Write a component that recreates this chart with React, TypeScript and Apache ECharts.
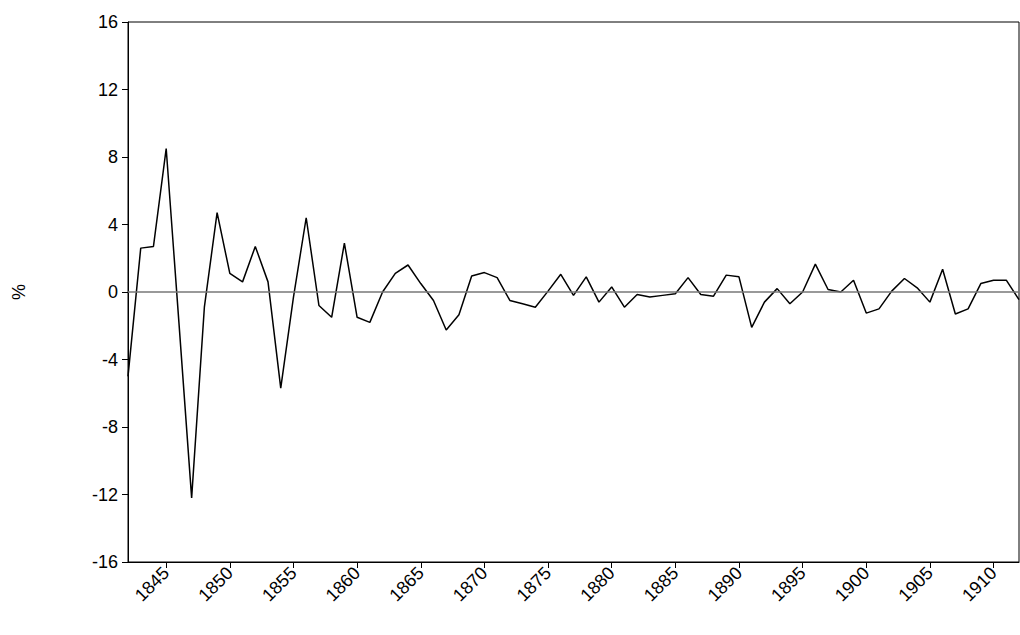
import React, { useEffect, useRef } from "react";
import * as echarts from "echarts";

const years: string[] = [];
for (let y = 1842; y <= 1912; y++) years.push(String(y));
const values = [
  -5, 2.6, 2.7, 8.5, -1.8, -12.2, -0.9, 4.7, 1.1, 0.6,
  2.7, 0.6, -5.7, -0.3, 4.4, -0.8, -1.5, 2.9, -1.5, -1.8,
  0, 1.1, 1.6, 0.5, -0.5, -2.25, -1.35, 0.95, 1.15, 0.85,
  -0.5, -0.7, -0.9, 0.05, 1.05, -0.2, 0.9, -0.6, 0.3, -0.9,
  -0.15, -0.3, -0.2, -0.1, 0.85, -0.15, -0.25, 1.0, 0.9, -2.1,
  -0.6, 0.2, -0.7, 0, 1.65, 0.15, 0, 0.7, -1.25, -1.0,
  0.05, 0.8, 0.25, -0.6, 1.35, -1.3, -1.0, 0.5, 0.7, 0.7,
  -0.45,
];

export default function App() {
  const ref = useRef<HTMLDivElement>(null);
  useEffect(() => {
    const chart = echarts.init(ref.current!, undefined, { renderer: "svg" });
    const font = "Liberation Sans, Arial, sans-serif";
    const show5 = (i: number, v: string) => Number(v) % 5 === 0;
    chart.setOption({
      animation: false,
      grid: { left: 128, right: 1, top: 22, bottom: 73, show: true, borderColor: "#000", borderWidth: 1 },
      xAxis: {
        type: "category",
        data: years,
        boundaryGap: false,
        axisLine: { onZero: false, lineStyle: { color: "#000" } },
        axisTick: { interval: show5, length: 6, lineStyle: { color: "#000" } },
        axisLabel: { interval: show5, rotate: 45, color: "#000", fontSize: 18, fontFamily: font, margin: 8 },
        splitLine: { show: false },
      },
      yAxis: {
        type: "value",
        min: -16,
        max: 16,
        interval: 4,
        name: "%",
        nameLocation: "middle",
        nameGap: 100,
        nameTextStyle: { color: "#000", fontSize: 18, fontFamily: font },
        axisLine: { show: true, lineStyle: { color: "#000" } },
        axisTick: { show: true, length: 6, lineStyle: { color: "#000" } },
        axisLabel: { color: "#000", fontSize: 18, fontFamily: font, margin: 10 },
        splitLine: { show: false },
      },
      series: [
        {
          type: "line",
          data: values,
          symbol: "none",
          lineStyle: { color: "#000", width: 1.5 },
          markLine: {
            silent: true,
            symbol: "none",
            label: { show: false },
            lineStyle: { color: "#777", type: "solid", width: 1.5 },
            data: [{ yAxis: 0 }],
          },
        },
      ],
    });
    return () => chart.dispose();
  }, []);
  return <div ref={ref} style={{ width: 1020, height: 635, position: "absolute", left: 0, top: 0 }} />;
}
